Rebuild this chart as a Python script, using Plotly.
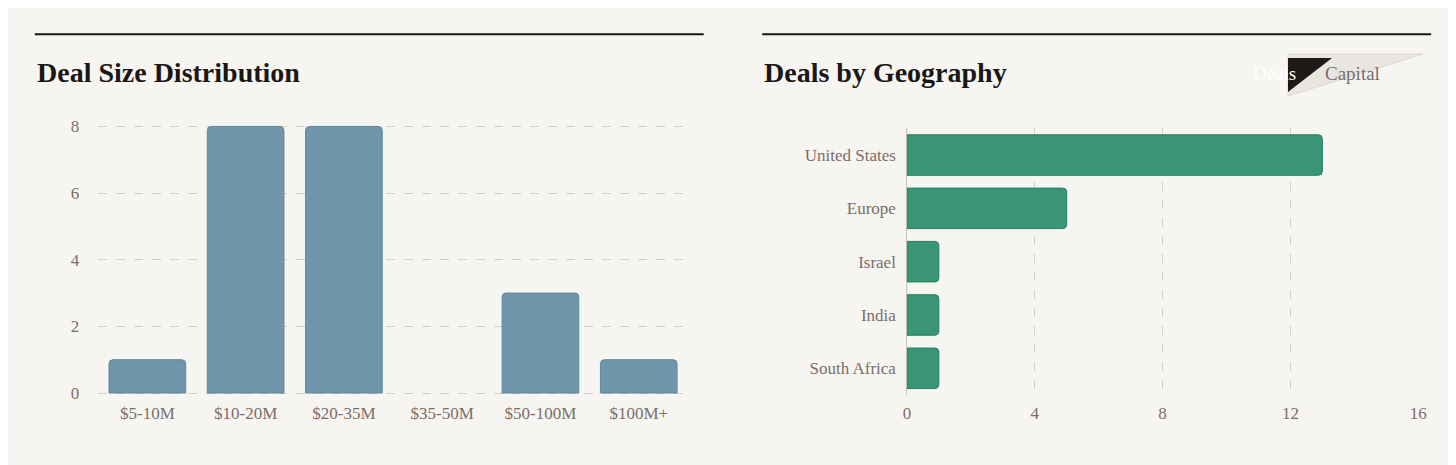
import plotly.graph_objects as go

size_cats = ["$5-10M", "$10-20M", "$20-35M", "$35-50M", "$50-100M", "$100M+"]
size_vals = [1, 8, 8, 0, 3, 1]
geo_cats = ["United States", "Europe", "Israel", "India", "South Africa"]
geo_vals = [13, 5, 1, 1, 1]

W, H, OFF = 1456, 465, 8
FW, FH = W - OFF, H - OFF
def px(x): return (x - OFF) / FW
def py(y): return 1 - (y - OFF) / FH

def pill(x0, y0, x1, y1):
    r = (y1 - y0) / 2
    X0, X1, Y0, Y1 = x0 - OFF, x1 - OFF, y0 - OFF, y1 - OFF
    return (f"M{X0+r},{Y0} L{X1-r},{Y0} A{r},{r} 0 0 1 {X1-r},{Y1} "
            f"L{X0+r},{Y1} A{r},{r} 0 0 1 {X0+r},{Y0} Z")

FONT = "Liberation Serif"
TICK = "#7a6e6a"
fig = go.Figure()
fig.add_bar(x=size_cats, y=size_vals,
            marker=dict(color="#6f96aa", line=dict(color="#5f8799", width=[0 if v == 0 else 1 for v in size_vals])),
            width=0.78, xaxis="x", yaxis="y", hoverinfo="skip")
fig.add_bar(y=geo_cats, x=geo_vals, orientation="h",
            marker=dict(color="#3a9476", line=dict(color="#2a7d60", width=1)),
            width=0.76, xaxis="x2", yaxis="y2", hoverinfo="skip")

grid = dict(gridcolor="#d2ceca", griddash="dash", gridwidth=1)
ppu = 275 / 8
fig.update_layout(
    width=FW, height=FH, margin=dict(l=0, r=0, t=0, b=0),
    paper_bgcolor="#f7f5f1", plot_bgcolor="#f7f5f1", showlegend=False,
    barcornerradius=4, font=dict(family=FONT, size=17, color=TICK),
    xaxis=dict(domain=[px(95), px(690)], anchor="y", showgrid=False, ticks="", ticklabelstandoff=6),
    yaxis=dict(domain=[py(399 + 0.06 * ppu), py(124 - 0.1 * ppu)], anchor="x", range=[-0.06, 8.1], dtick=2,
               showgrid=True, zeroline=False, ticklabelstandoff=18, **grid),
    xaxis2=dict(domain=[px(911), px(1427)], anchor="y2", range=[0, 16], dtick=4, showgrid=True,
                zeroline=True, zerolinecolor="#c8c4c0", zerolinewidth=1, ticklabelstandoff=6, **grid),
    yaxis2=dict(domain=[py(401), py(126)], anchor="x2", autorange="reversed", showgrid=False,
                ticklabelstandoff=10),
    shapes=[
        dict(type="line", xref="paper", yref="paper", x0=px(31), x1=px(706), y0=py(29), y1=py(29),
             line=dict(color="#1a1716", width=2)),
        dict(type="line", xref="paper", yref="paper", x0=px(765), x1=px(1440), y0=py(29), y1=py(29),
             line=dict(color="#1a1716", width=2)),
        dict(type="path", xref="paper", yref="paper", xsizemode="pixel", ysizemode="pixel",
             xanchor=0, yanchor=1, path=pill(1263, 48, 1440, 90),
             fillcolor="#e9e6e2", line=dict(color="#dcd8d3", width=1)),
        dict(type="path", xref="paper", yref="paper", xsizemode="pixel", ysizemode="pixel",
             xanchor=0, yanchor=1, path=pill(1267, 52, 1345, 86).replace(",", ",-").replace(",--", ","),
             fillcolor="#1e1a18", line=dict(width=0)),
    ],
    annotations=[
        dict(text="<b>Deal Size Distribution</b>", xref="paper", yref="paper", x=px(31), y=py(68),
             xanchor="left", yanchor="middle", showarrow=False, font=dict(size=28, color="#1a1716", family=FONT)),
        dict(text="<b>Deals by Geography</b>", xref="paper", yref="paper", x=px(765), y=py(68),
             xanchor="left", yanchor="middle", showarrow=False, font=dict(size=28, color="#1a1716", family=FONT)),
        dict(text="Deals", xref="paper", yref="paper", x=px(1306), y=py(69), yanchor="middle", showarrow=False,
             font=dict(size=19, color="#ffffff", family=FONT)),
        dict(text="Capital", xref="paper", yref="paper", x=px(1390), y=py(69), yanchor="middle", showarrow=False,
             font=dict(size=19, color="#7a6e6a", family=FONT)),
    ],
)
# pixel-mode paths: y axis points up, so negate y coords
for s in fig.layout.shapes:
    if s.type == "path":
        import re
        def fix(m):
            return f"{m.group(1)}{float(m.group(2))},{-abs(float(m.group(3)))}"
        s.path = re.sub(r"([MLA ]?)(-?[\d.]+),(-?[\d.]+)", fix, s.path)
fig.write_html("out.html")
